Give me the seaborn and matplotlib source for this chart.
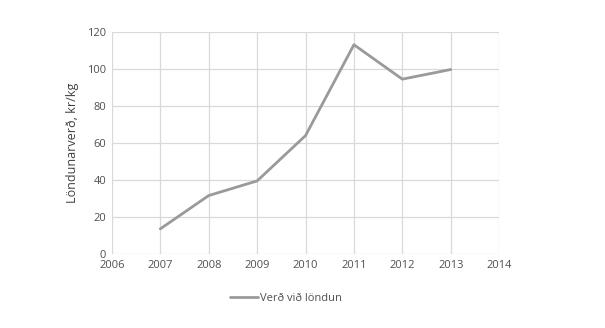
import matplotlib
matplotlib.use("Agg")
import matplotlib.pyplot as plt
import seaborn as sns
import pandas as pd

years = [2007, 2008, 2009, 2010, 2011, 2012, 2013]
values = [13.7, 31.7, 39.6, 64.1, 113.2, 94.6, 99.8]
series_name = "Verð við löndun"
y_label = "Löndunarverð, kr/kg"
x_ticks = [2006, 2007, 2008, 2009, 2010, 2011, 2012, 2013, 2014]
y_ticks = [0, 20, 40, 60, 80, 100, 120]

sns.set_theme(style="white")
plt.rcParams['font.family'] = ['Open Sans', 'DejaVu Sans']

df = pd.DataFrame({"Ár": years, "Verð": values, "Röð": series_name})

fig = plt.figure(figsize=(6.05, 3.28), dpi=100)
ax = fig.add_axes([0.185, 0.225, 0.64, 0.677])
sns.lineplot(data=df, x="Ár", y="Verð", hue="Röð", palette=["#9a9a9a"],
             linewidth=2.0, ax=ax)

ax.set_xlim(2006, 2014)
ax.set_ylim(0, 120)
ax.set_xticks(x_ticks)
ax.set_yticks(y_ticks)
ax.set_xticklabels([str(t) for t in x_ticks])
ax.grid(True, color="#d9d9d9", linewidth=0.9)
ax.set_axisbelow(True)
for s in ax.spines.values():
    s.set_visible(False)
ax.tick_params(axis="both", length=0, labelsize=8, colors="#505050", pad=4)
ax.set_xlabel("")
ax.set_ylabel(y_label, fontsize=9, color="#404040", labelpad=6)

leg = ax.legend(loc="center", bbox_to_anchor=(0.45, -0.2), frameon=False,
                fontsize=8, handlelength=2.5, handletextpad=0.2)
for t in leg.get_texts():
    t.set_color("#505050")

fig.savefig("out.png", dpi=100, facecolor="white")
